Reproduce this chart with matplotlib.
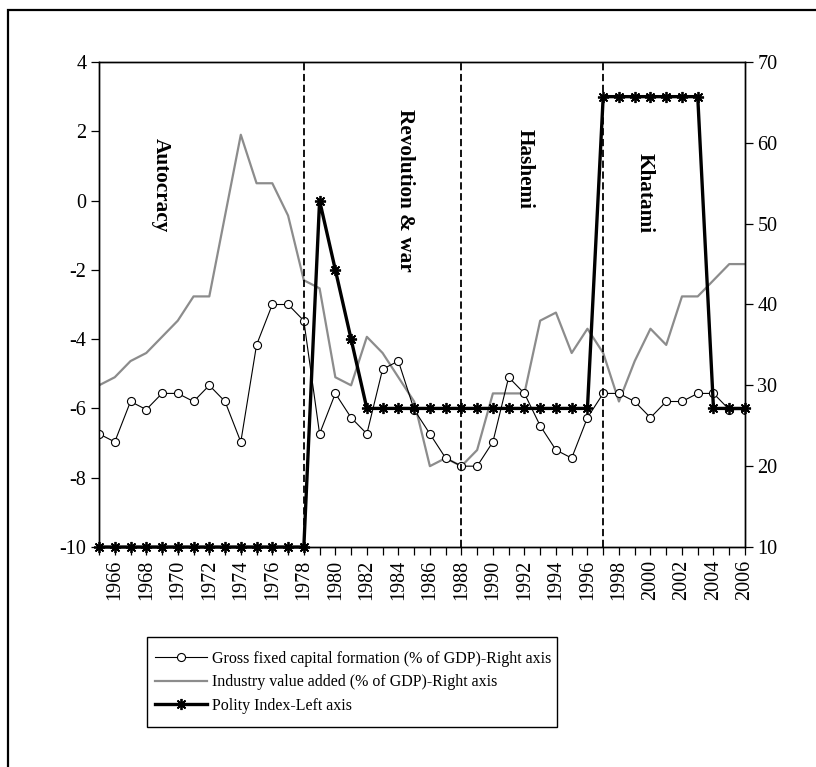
import matplotlib
matplotlib.use("Agg")
import matplotlib.pyplot as plt
from matplotlib.lines import Line2D
from matplotlib.patches import Rectangle
import numpy as np

plt.rcParams['font.family'] = ['Liberation Serif', 'DejaVu Serif']
plt.rcParams['axes.unicode_minus'] = False

years = list(range(1965, 2007))

polity = [-10]*14 + [0, -2, -4] + [-6]*15 + [3]*7 + [-6, -6, -6]

gfcf = [24, 23, 28, 27, 29, 29, 28, 30, 28, 23, 35, 40, 40, 38,
        24, 29, 26, 24, 32, 33, 27, 24, 21, 20, 20, 23, 31, 29,
        25, 22, 21, 26, 29, 29, 28, 26, 28, 28, 29, 29, 27, 27]

industry = [30, 31, 33, 34, 36, 38, 41, 41, 51, 61, 55, 55, 51, 43,
            42, 31, 30, 36, 34, 31, 28, 20, 21, 20, 22, 29, 29, 29,
            38, 39, 34, 37, 34, 28, 33, 37, 35, 41, 41, 43, 45, 45]

periods = ["Autocracy", "Revolution & war", "Hashemi", "Khatami"]
period_x = [1968.9, 1984.4, 1992.0, 1999.6]
period_y = [0.45, 0.28, 0.91, 0.22]
breaks = [1978, 1988, 1997]

left_ticks = list(range(-10, 5, 2))
right_ticks = list(range(10, 71, 10))

W, H = 816, 767
fig = plt.figure(figsize=(W/100, H/100), dpi=100)
ax = fig.add_axes([99/W, 1-547/H, (745-99)/W, (547-62)/H])
ax2 = ax.twinx()

# right-axis series
l1, = ax2.plot(years, gfcf, color='black', lw=0.8, marker='o', ms=5.8,
               mfc='white', mec='black', mew=0.8,
               label='Gross fixed capital formation (% of GDP)-Right axis', zorder=3)
l2, = ax2.plot(years, industry, color='#8c8c8c', lw=1.6,
               label='Industry value added (% of GDP)-Right axis', zorder=2)
ax2.set_ylim(10, 70)
ax2.set_yticks(right_ticks)

ax.set_zorder(ax2.get_zorder() + 1)
ax.patch.set_visible(False)
l3, = ax.plot(years, polity, color='black', lw=2.4, marker=(8, 2, 0), ms=8,
              mew=1.3, mec='black', label='Polity Index-Left axis', zorder=4,
              clip_on=False)
for b in breaks:
    ax.axvline(b, color='black', ls=(0, (4, 2)), lw=1.3, zorder=1)
ax.set_ylim(-10, 4)
ax.set_yticks(left_ticks)
ax.set_xlim(1965, 2006)
ax.set_xticks(years)
ax.set_xticklabels([str(y) if y % 2 == 0 else '' for y in years], rotation=90)

for name, x, y in zip(periods, period_x, period_y):
    ax.text(x, y, name, rotation=270, ha='center', va='center',
            fontsize=15.3, fontweight='bold')

for a in (ax, ax2):
    a.tick_params(direction='out', length=6, width=0.9, labelsize=14.5, pad=3)
    for s in a.spines.values():
        s.set_linewidth(1.0)

# legend content (frame drawn separately)
leg = fig.legend(handles=[l1, l2, l3], loc='upper left',
                 bbox_to_anchor=(155/W, 1-651/H), borderaxespad=0,
                 frameon=False, fontsize=11.55, numpoints=1,
                 handlelength=3.25, handletextpad=0.3, labelspacing=0.46,
                 borderpad=0)
fig.add_artist(Rectangle((147/W, 1-727/H), (557-147)/W, (727-637)/H,
                         transform=fig.transFigure, fill=False,
                         edgecolor='black', lw=1.0))

fig.add_artist(Line2D([8/W, 8/W, 1.0], [0.0, 1-10/H, 1-10/H],
                      transform=fig.transFigure, color='black', lw=1.6,
                      solid_joinstyle='miter'))

fig.savefig('out.png', dpi=100)
